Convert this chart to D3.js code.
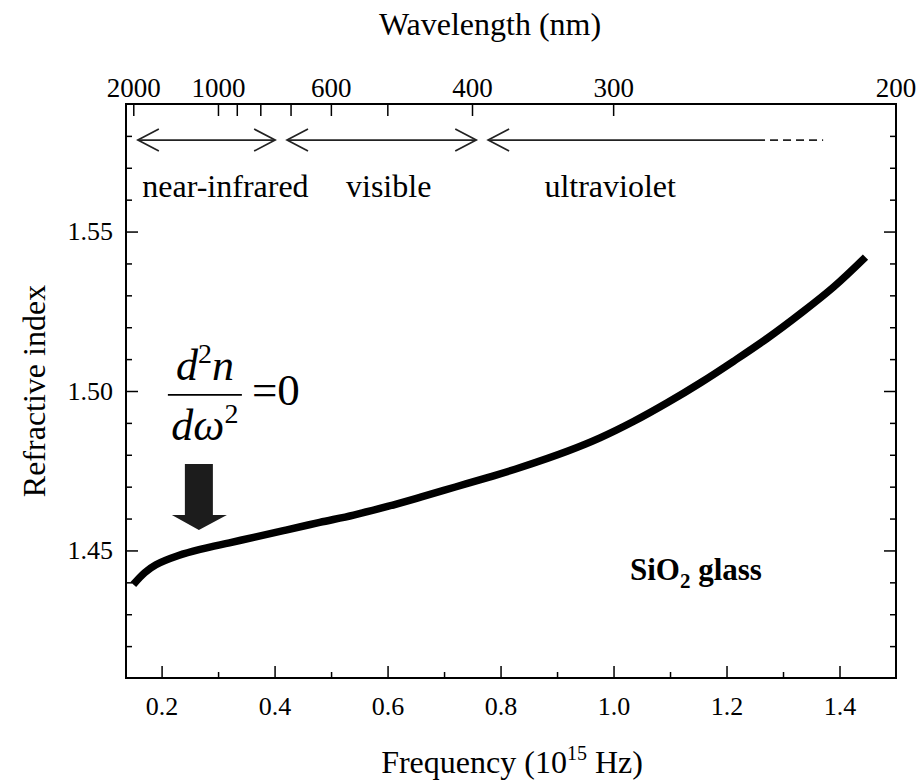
<!DOCTYPE html>
<html>
<head>
<meta charset="utf-8">
<script src="https://cdn.jsdelivr.net/npm/d3@7"></script>
<style>
  body { margin: 0; background: #fff; }
  svg { display: block; font-family: "Liberation Serif", "Times New Roman", serif; }
  .tick line { stroke: #000; stroke-width: 1.5; }
  .tick text { font-size: 26px; fill: #000; font-family: "Liberation Serif", "Times New Roman", serif; }
</style>
</head>
<body>
<div id="chart"></div>
<script>
// Curve: frequency (10^15 Hz) and refractive index
const freq = [0.150, 0.170, 0.190, 0.230, 0.270, 0.320, 0.365, 0.420, 0.480, 0.540, 0.600, 0.660,
              0.720, 0.780, 0.835, 0.918, 0.976, 1.036, 1.095, 1.154, 1.213, 1.272, 1.331, 1.390, 1.446];
const refIndex = [1.4393, 1.4430, 1.4455, 1.4484, 1.4504, 1.4524, 1.4542, 1.4564, 1.4588, 1.4611, 1.4638, 1.4668,
                  1.4699, 1.4730, 1.4760, 1.4811, 1.4853, 1.4905, 1.4963, 1.5026, 1.5094, 1.5165, 1.5243, 1.5327, 1.5420];

// Axis ticks
const freqMajor = [0.2, 0.4, 0.6, 0.8, 1.0, 1.2, 1.4];
const freqMinor = [0.3, 0.5, 0.7, 0.9, 1.1, 1.3];
const indexMajor = [1.45, 1.50, 1.55];
const indexMinor = [1.42, 1.43, 1.44, 1.46, 1.47, 1.48, 1.49, 1.51, 1.52, 1.53, 1.54, 1.56, 1.57, 1.58];
const wavelengthTicks = [2000, 1000, 900, 800, 700, 600, 500, 400, 300, 200];
const wavelengthLabels = [2000, 1000, 600, 400, 300, 200];

// Spectral regions (frequency of arrow tips) and their labels
const regionNames = ['near-infrared', 'visible', 'ultraviolet'];
const regionFrom = [0.158, 0.422, 0.778];
const regionTo = [0.401, 0.757, 1.254];
const regionLabelAt = [0.313, 0.602, 0.994];
const uvDashedTo = 1.371;

// Zero-dispersion marker
const zeroDispFreq = 0.266;

const C_NM = 299.79; // c in nm * 10^15 Hz

function renderChart() {
    const width = 918, height = 781;
    const margin = { top: 104, right: 22, bottom: 103, left: 126 };

    const svg = d3.select('#chart').append('svg')
        .attr('width', width)
        .attr('height', height);

    const x = d3.scaleLinear()
        .domain([0.137, 1.5])
        .range([margin.left, width - margin.right]);

    const y = d3.scaleLinear()
        .domain([1.41, 1.59])
        .range([height - margin.bottom, margin.top]);

    const x0 = x.range()[0], x1 = x.range()[1];
    const y0 = y.range()[1], y1 = y.range()[0];

    // bottom axis
    svg.append('g')
        .attr('transform', `translate(0,${y1})`)
        .call(d3.axisBottom(x).tickValues(freqMajor).tickSize(-12).tickPadding(19).tickFormat(d3.format('.1f')))
        .call(g => g.select('.domain').remove());
    svg.append('g')
        .attr('transform', `translate(0,${y1})`)
        .call(d3.axisBottom(x).tickValues(freqMinor).tickSize(-6).tickFormat(''))
        .call(g => g.select('.domain').remove());

    // left axis
    svg.append('g')
        .attr('transform', `translate(${x0},0)`)
        .call(d3.axisLeft(y).tickValues(indexMajor).tickSize(-12).tickPadding(13).tickFormat(d3.format('.2f')))
        .call(g => g.select('.domain').remove());
    svg.append('g')
        .attr('transform', `translate(${x0},0)`)
        .call(d3.axisLeft(y).tickValues(indexMinor).tickSize(-6).tickFormat(''))
        .call(g => g.select('.domain').remove());

    // right axis, ticks only
    svg.append('g')
        .attr('transform', `translate(${x1},0)`)
        .call(d3.axisRight(y).tickValues(indexMajor).tickSize(-12).tickFormat(''))
        .call(g => g.select('.domain').remove());
    svg.append('g')
        .attr('transform', `translate(${x1},0)`)
        .call(d3.axisRight(y).tickValues(indexMinor).tickSize(-6).tickFormat(''))
        .call(g => g.select('.domain').remove());

    // top axis in wavelength (nm), placed at c / lambda
    svg.append('g')
        .attr('transform', `translate(0,${y0})`)
        .call(d3.axisTop(x)
            .tickValues(wavelengthTicks.map(w => C_NM / w))
            .tickSize(-12)
            .tickPadding(7)
            .tickFormat(f => {
                const w = Math.round(C_NM / f / 100) * 100;
                return wavelengthLabels.includes(w) ? w : '';
            }))
        .call(g => g.select('.domain').remove())
        .call(g => g.selectAll('.tick text').style('font-size', '27px'));

    // frame
    svg.append('rect')
        .attr('x', x0)
        .attr('y', y0)
        .attr('width', x1 - x0)
        .attr('height', y1 - y0)
        .attr('fill', 'none')
        .attr('stroke', '#000')
        .attr('stroke-width', 2);

    // axis titles
    svg.append('text')
        .attr('x', 490)
        .attr('y', 35)
        .attr('text-anchor', 'middle')
        .style('font-size', '32px')
        .text('Wavelength (nm)');

    const xt = svg.append('text')
        .attr('x', 512)
        .attr('y', 773)
        .attr('text-anchor', 'middle')
        .style('font-size', '32px');
    xt.append('tspan').text('Frequency (10');
    xt.append('tspan').attr('dy', -13).style('font-size', '20px').text('15');
    xt.append('tspan').attr('dy', 13).text(' Hz)');

    svg.append('text')
        .attr('transform', `translate(45,${(y0 + y1) / 2}) rotate(-90)`)
        .attr('text-anchor', 'middle')
        .style('font-size', '32px')
        .text('Refractive index');

    // spectral region arrows
    const bandY = y(1.5787);
    const head = (tip, dir) => `M${tip + dir * 21},${bandY - 11}L${tip},${bandY}L${tip + dir * 21},${bandY + 11}`;

    const regions = svg.append('g')
        .attr('fill', 'none')
        .attr('stroke', '#222')
        .attr('stroke-width', 1.7);

    regionNames.forEach((name, i) => {
        const a = x(regionFrom[i]), b = x(regionTo[i]);
        regions.append('line')
            .attr('x1', a).attr('x2', b)
            .attr('y1', bandY).attr('y2', bandY);
        regions.append('path').attr('d', head(a, 1));
        if (name !== 'ultraviolet') {
            regions.append('path').attr('d', head(b, -1));
        }
    });

    regions.append('line')
        .attr('x1', x(regionTo[2])).attr('x2', x(uvDashedTo))
        .attr('y1', bandY).attr('y2', bandY)
        .attr('stroke-dasharray', '8,5');

    svg.selectAll('.region-label')
        .data(regionNames)
        .enter()
        .append('text')
        .attr('class', 'region-label')
        .attr('x', (d, i) => x(regionLabelAt[i]))
        .attr('y', y(1.5608))
        .attr('text-anchor', 'middle')
        .style('font-size', '32px')
        .text(d => d);

    // the dispersion curve
    const line = d3.line()
        .x(d => x(d[0]))
        .y(d => y(d[1]))
        .curve(d3.curveCatmullRom.alpha(0.5));

    svg.append('path')
        .datum(freq.map((f, i) => [f, refIndex[i]]))
        .attr('d', line)
        .attr('fill', 'none')
        .attr('stroke', '#000')
        .attr('stroke-width', 7.5)
        .attr('stroke-linecap', 'butt')
        .attr('stroke-linejoin', 'round');

    // block arrow pointing at the zero-dispersion frequency
    const ax = x(zeroDispFreq);
    const tipY = y(1.4564), topY = y(1.4771);
    svg.append('path')
        .attr('d', `M${ax - 14},${topY}L${ax + 14},${topY}L${ax + 14},${tipY - 15}L${ax + 28},${tipY - 15}` +
                   `L${ax},${tipY}L${ax - 27},${tipY - 15}L${ax - 14},${tipY - 15}Z`)
        .attr('fill', '#1c1c1c');

    // d^2 n / d omega^2 = 0
    const fx = ax + 6, lineY = y(1.4988);
    const num = svg.append('text')
        .attr('x', fx)
        .attr('y', lineY - 15)
        .attr('text-anchor', 'middle')
        .style('font-size', '44px')
        .style('font-style', 'italic');
    num.append('tspan').text('d');
    num.append('tspan').attr('dy', -17).style('font-size', '28px').style('font-style', 'normal').text('2');
    num.append('tspan').attr('dy', 17).text('n');

    svg.append('line')
        .attr('x1', fx - 37).attr('x2', fx + 37)
        .attr('y1', lineY).attr('y2', lineY)
        .attr('stroke', '#000')
        .attr('stroke-width', 1.6);

    const den = svg.append('text')
        .attr('x', fx)
        .attr('y', lineY + 45)
        .attr('text-anchor', 'middle')
        .style('font-size', '44px')
        .style('font-style', 'italic');
    den.append('tspan').text('dω');
    den.append('tspan').attr('dy', -17).style('font-size', '28px').style('font-style', 'normal').text('2');

    svg.append('text')
        .attr('x', fx + 47)
        .attr('y', lineY + 10)
        .style('font-size', '45px')
        .text('=0');

    // material label
    const mat = svg.append('text')
        .attr('x', x(1.029))
        .attr('y', y(1.4408))
        .style('font-size', '31px')
        .style('font-weight', 'bold');
    mat.append('tspan').text('SiO');
    mat.append('tspan').attr('dy', 8).style('font-size', '21px').text('2');
    mat.append('tspan').attr('dy', -8).text(' glass');
}

window.onload = renderChart;
</script>
</body>
</html>
